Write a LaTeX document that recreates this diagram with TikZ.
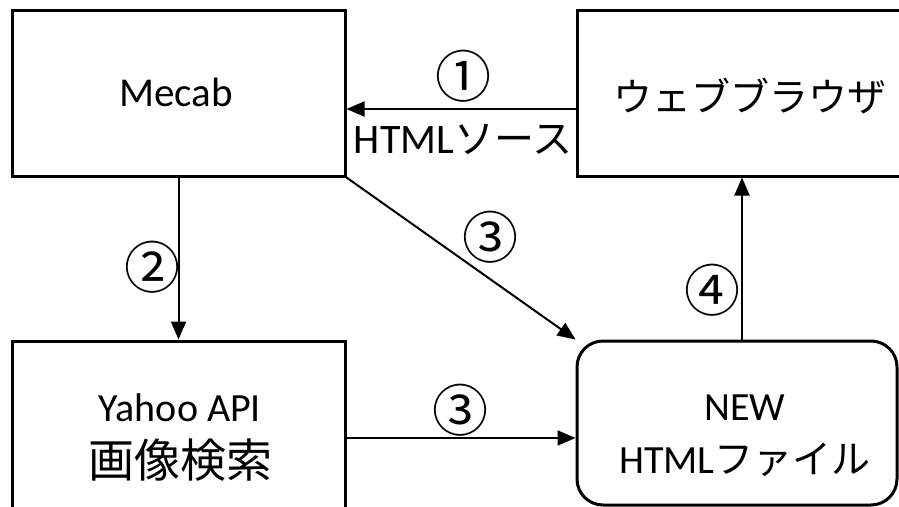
\documentclass[tikz,border=0pt]{standalone}
\usepackage{fontspec}
\setmainfont{Carlito}
\newfontfamily\jp{Noto Sans CJK JP}
\usetikzlibrary{arrows.meta}
\begin{document}
\begin{tikzpicture}[x=1pt,y=-1pt,
  box/.style={draw=black,line width=3pt,inner sep=0pt,align=center,font=\fontsize{40}{50}\selectfont},
  conn/.style={line width=2pt,-{Triangle[length=18pt,width=15pt]}},
  lbl/.style={inner sep=0pt,font=\fontsize{42}{50}\selectfont},
  num/.style={inner sep=0pt,font=\jp\fontsize{56}{60}\selectfont}]
\useasboundingbox (0,0) rectangle (899,506);
\clip (0,0) rectangle (899,506);
\node[box,minimum width=333pt,minimum height=166pt] (mecab) at (178.5,93) {};
\node[font=\fontsize{41}{50}\selectfont] (mecabt) at (176,92) {Mecab};
\node[box,minimum width=328pt,minimum height=166pt] (browser) at (741,93) {};
\node[font=\jp\fontsize{39}{50}\selectfont] (browsert) at (750,96) {ウェブブラウザ};
\node[box,minimum width=333pt,minimum height=169pt] (yahoo) at (178.5,425.5) {};
\node[font=\fontsize{40}{50}\selectfont] (yahoo1) at (180,408) {Yahoo API};
\node[font=\jp\fontsize{46}{50}\selectfont] (yahoo2) at (180,460) {画像検索};
\node[box,rounded corners=26pt,minimum width=320pt,minimum height=164pt] (new) at (737,423) {};
\node[font=\fontsize{40}{50}\selectfont] (new1) at (745,408) {NEW};
\node[font=\fontsize{40}{50}\selectfont] (new2) at (745,460) {HTML{\jp\fontsize{39}{50}\selectfont ファイル}};
% connectors
\draw[conn] (browser.west |- 0,109) -- (mecab.east |- 0,109);
\draw[conn] (mecab.south) -- (yahoo.north);
\draw[conn] (mecab.south east) -- (new.north west);
\draw[conn] (yahoo.east |- 0,438) -- (new.west |- 0,438);
\draw[conn] (new.north -| 742,0) -- (browser.south -| 742,0);
% labels
\node[num] (n1) at (463,76) {①};
\node[lbl] (src) at (463,139) {HTML{\jp\fontsize{40}{50}\selectfont ソース}};
\node[num] (n2) at (152,267) {②};
\node[num] (n3a) at (490,237) {③};
\node[num] (n3b) at (460,410) {③};
\node[num] (n4) at (712,290) {④};
\end{tikzpicture}
\end{document}
